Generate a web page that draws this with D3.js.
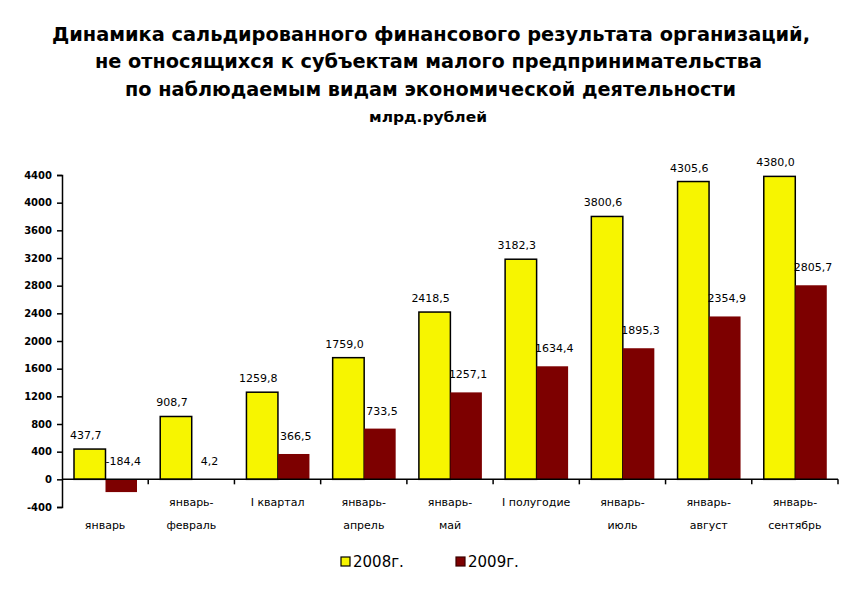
<!DOCTYPE html>
<html><head><meta charset="utf-8">
<script src="https://cdn.jsdelivr.net/npm/d3@7"></script>
<style>body{margin:0;background:#fff}svg{display:block}</style>
</head><body>
<script>
const categories = [["","январь"],["январь-","февраль"],["I квартал",""],["январь-","апрель"],["январь-","май"],["I полугодие",""],["январь-","июль"],["январь-","август"],["январь-","сентябрь"]];
const values2008 = [437.7, 908.7, 1259.8, 1759.0, 2418.5, 3182.3, 3800.6, 4305.6, 4380.0];
const values2009 = [-184.4, 4.2, 366.5, 733.5, 1257.1, 1634.4, 1895.3, 2354.9, 2805.7];
const yTicks = [-400,0,400,800,1200,1600,2000,2400,2800,3200,3600,4000,4400];
const seriesNames = ["2008г.","2009г."];
const titleLines = ["Динамика сальдированного финансового результата организаций,","не относящихся к субъектам малого предпринимательства","по наблюдаемым видам экономической деятельности"];
const subtitle = "млрд.рублей";

const W=858,H=592;
const svg=d3.select("body").append("svg").attr("width",W).attr("height",H);
const narrow="'Liberation Sans Narrow','DejaVu Sans Condensed',Arial,sans-serif";
const font="'DejaVu Sans',Verdana,sans-serif";

const tl=[{y:41,x0:52,x1:810},{y:68,x0:95,x1:762},{y:96,x0:125,x1:736}];
titleLines.forEach((t,i)=>{
  svg.append("text").attr("x",(tl[i].x0+tl[i].x1)/2).attr("y",tl[i].y)
    .attr("text-anchor","middle").attr("font-family",narrow).attr("font-weight","bold")
    .attr("font-size",20).attr("textLength",tl[i].x1-tl[i].x0).attr("lengthAdjust","spacingAndGlyphs")
    .text(t);
});
svg.append("text").attr("x",428).attr("y",122).attr("text-anchor","middle").attr("font-family",narrow)
  .attr("font-weight","bold").attr("font-size",14).attr("textLength",118).attr("lengthAdjust","spacingAndGlyphs").text(subtitle);

const x=d3.scaleBand().domain(d3.range(categories.length)).range([62,838]).padding(0);
const y=d3.scaleLinear().domain([-400,4400]).range([507,175]);
const bw=31.5, off=12;

const g=svg.append("g");
g.selectAll(".b8").data(values2008).join("rect")
  .attr("x",(d,i)=>x(i)+off).attr("width",bw)
  .attr("y",d=>y(Math.max(0,d))).attr("height",d=>Math.abs(y(d)-y(0)))
  .attr("fill","#f7f500").attr("stroke","#000").attr("stroke-width",1.5);
g.selectAll(".b9").data(values2009).join("rect")
  .attr("x",(d,i)=>x(i)+off+bw).attr("width",bw)
  .attr("y",d=>y(Math.max(0,d))).attr("height",d=>Math.abs(y(d)-y(0)))
  .attr("fill","#7d0000");

const fmt=d=>d.toFixed(1).replace(".",",");
g.selectAll(".l8").data(values2008).join("text")
  .attr("x",(d,i)=>x(i)+off+bw/2-4).attr("y",d=>y(Math.max(0,d))-10)
  .attr("text-anchor","middle").attr("font-family",font).attr("font-size",11).text(fmt);
g.selectAll(".l9").data(values2009).join("text")
  .attr("x",(d,i)=>x(i)+off+bw*1.5+2).attr("y",d=>y(Math.max(0,d))-14)
  .attr("text-anchor","middle").attr("font-family",font).attr("font-size",11).text(fmt);

const ya=svg.append("g").attr("transform","translate(62,0)")
  .call(d3.axisLeft(y).tickValues(yTicks).tickSize(5).tickPadding(5).tickFormat(d=>String(d)));
ya.select(".domain").attr("stroke","#000").attr("stroke-width",1.5);
ya.selectAll(".tick line").attr("stroke","#000").attr("stroke-width",1.5);
ya.selectAll(".tick text").attr("font-family",font).attr("font-weight","bold").attr("font-size",10).attr("fill","#000");

svg.append("line").attr("x1",62).attr("x2",838).attr("y1",y(0)).attr("y2",y(0)).attr("stroke","#000").attr("stroke-width",1.5);
svg.selectAll(".ct").data(d3.range(1,categories.length+1)).join("line")
  .attr("x1",i=>62+i*x.bandwidth()).attr("x2",i=>62+i*x.bandwidth())
  .attr("y1",y(0)).attr("y2",y(0)+5).attr("stroke","#000").attr("stroke-width",1.5);
categories.forEach((c,i)=>{
  c.forEach((t,j)=>{
    if(!t) return;
    svg.append("text").attr("x",x(i)+x.bandwidth()/2).attr("y",506+j*23)
      .attr("text-anchor","middle").attr("font-family",font).attr("font-size",11).text(t);
  });
});

const leg=[{x:341,c:"#f7f500",s:"#000"},{x:456,c:"#7d0000",s:"#3a0000"}];
leg.forEach((l,i)=>{
  svg.append("rect").attr("x",l.x).attr("y",557).attr("width",9).attr("height",9)
    .attr("fill",l.c).attr("stroke",l.s).attr("stroke-width",1.2);
  svg.append("text").attr("x",l.x+12).attr("y",567).attr("font-family",font).attr("font-size",15).text(seriesNames[i]);
});
</script>
</body></html>
